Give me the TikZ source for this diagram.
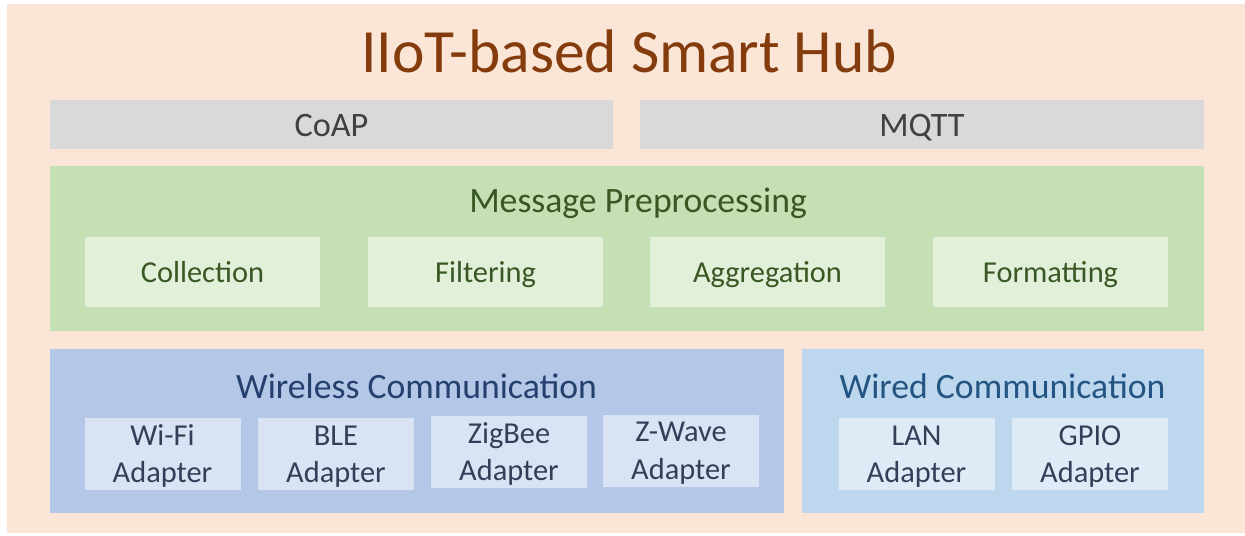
\documentclass[tikz,border=0pt]{standalone}
\usepackage{fontspec}
\setmainfont{Carlito}
\usetikzlibrary{positioning}

\definecolor{hubBg}{HTML}{FBE5D6}
\definecolor{hubTitle}{HTML}{843C0C}
\definecolor{protoGray}{HTML}{D9D9D9}
\definecolor{protoText}{HTML}{404040}
\definecolor{prepGreen}{HTML}{C5E0B4}
\definecolor{prepLight}{HTML}{E2F0D9}
\definecolor{prepText}{HTML}{385723}
\definecolor{wlBlue}{HTML}{B4C7E7}
\definecolor{wlLight}{HTML}{DAE3F3}
\definecolor{wlText}{HTML}{253F6E}
\definecolor{wdBlue}{HTML}{BDD7EE}
\definecolor{wdLight}{HTML}{DEEBF7}
\definecolor{wdText}{HTML}{245582}
\definecolor{adText}{HTML}{323F58}

\begin{document}
\begin{tikzpicture}[
    x=0.02cm, y=-0.02cm,
    panel/.style={rectangle, inner sep=0pt, outer sep=0pt}, % flat filled block, no border
    protoBox/.style={panel, fill=protoGray, text=protoText, font=\fontsize{19.5}{23}\selectfont, text height=13.6pt, text depth=0pt, minimum height=49*0.02cm},
    stepBox/.style={panel, fill=prepLight, text=prepText, font=\fontsize{17.3}{21}\selectfont, text height=12pt, text depth=0pt, minimum width=235*0.02cm, minimum height=70*0.02cm},
    adapterBox/.style={panel, text=adText, align=center, font=\fontsize{17.3}{21.5}\selectfont, text height=33pt, text depth=0pt, minimum width=156*0.02cm, minimum height=72*0.02cm},
    groupTitle/.style={font=\fontsize{20.3}{24}\selectfont, inner sep=0pt},
]
    % 1. page and background
    \useasboundingbox (0,0) rectangle (1245,535);
    \fill[hubBg] (7,4) rectangle (1245,533);
    \node[text=hubTitle, font=\fontsize{35}{42}\selectfont] (title) at (629,51) {IIoT-based Smart Hub};

    % 2. protocol layer
    \node[protoBox, minimum width=563*0.02cm] (coap) at (331.5,124.5) {CoAP};
    \node[protoBox, minimum width=564*0.02cm] (mqtt) at (922,124.5) {MQTT};

    % 3. message preprocessing
    \node[panel, fill=prepGreen, minimum width=1154*0.02cm, minimum height=165*0.02cm] (prep) at (627,248.5) {};
    \node[groupTitle, text=prepText] (prepTitle) at (638,203) {Message Preprocessing};
    \node[stepBox] (collect) at (202.5,272) {Collection};
    \node[stepBox, right=48*0.02cm of collect] (filter) {Filtering};
    \node[stepBox, right=47*0.02cm of filter] (aggr) {Aggregation};
    \node[stepBox, right=48*0.02cm of aggr] (format) {Formatting};

    % 4. wireless communication
    \node[panel, fill=wlBlue, minimum width=734*0.02cm, minimum height=164*0.02cm] (wireless) at (417,431) {};
    \node[groupTitle, text=wlText] (wlTitle) at (416.5,386) {Wireless Communication};
    \node[adapterBox, fill=wlLight] (wifi) at (162.5,454) {Wi-Fi\\Adapter};
    \node[adapterBox, fill=wlLight] (ble) at (336,454) {BLE\\Adapter};
    \node[adapterBox, fill=wlLight] (zigbee) at (509,452) {ZigBee\\Adapter};
    \node[adapterBox, fill=wlLight] (zwave) at (681,450.5) {Z-Wave\\Adapter};

    % 5. wired communication
    \node[panel, fill=wdBlue, minimum width=402*0.02cm, minimum height=164*0.02cm] (wired) at (1003,431) {};
    \node[groupTitle, text=wdText] (wdTitle) at (1002.5,386) {Wired Communication};
    \node[adapterBox, fill=wdLight] (lan) at (916.5,454) {LAN\\Adapter};
    \node[adapterBox, fill=wdLight] (gpio) at (1090,454) {GPIO\\Adapter};
\end{tikzpicture}
\end{document}
